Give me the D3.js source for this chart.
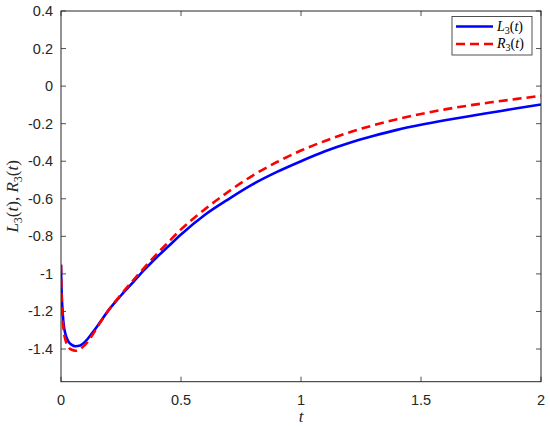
<!DOCTYPE html>
<html><head><meta charset="utf-8">
<script src="https://cdn.jsdelivr.net/npm/d3@7"></script>
<style>body{margin:0;background:#fff}svg{display:block}</style>
</head><body>
<svg id="c" width="550" height="428"></svg>
<script>
const tValues = [0,0.002,0.005,0.01,0.02,0.03,0.045,0.06,0.08,0.1,0.13,0.16,0.2,0.25,0.3,0.35,0.4,0.45,0.5,0.6,0.7,0.8,0.9,1.0,1.1,1.2,1.3,1.4,1.5,1.6,1.7,1.8,1.9,2.0];
const L3 = [-0.951,-1.073,-1.165,-1.256,-1.327,-1.358,-1.378,-1.385,-1.381,-1.362,-1.315,-1.262,-1.19,-1.115,-1.045,-0.975,-0.91,-0.85,-0.79,-0.685,-0.6,-0.522,-0.457,-0.400,-0.347,-0.303,-0.266,-0.233,-0.206,-0.182,-0.16,-0.139,-0.118,-0.098];
const R3 = [-0.951,-1.094,-1.195,-1.287,-1.358,-1.388,-1.404,-1.409,-1.399,-1.378,-1.327,-1.266,-1.19,-1.11,-1.035,-0.963,-0.893,-0.827,-0.763,-0.655,-0.56,-0.475,-0.404,-0.343,-0.292,-0.247,-0.209,-0.176,-0.148,-0.124,-0.103,-0.085,-0.068,-0.052];
const xTicks = [0,0.5,1,1.5,2];
const yTicks = [0.4,0.2,0,-0.2,-0.4,-0.6,-0.8,-1,-1.2,-1.4];
const xTickLabels = ["0","0.5","1","1.5","2"];
const yTickLabels = ["0.4","0.2","0","-0.2","-0.4","-0.6","-0.8","-1","-1.2","-1.4"];

const svg = d3.select("#c");
const L = 61, R = 541, T = 11, B = 381.7;
const x = d3.scaleLinear().domain([0,2]).range([L,R]);
const y = d3.scaleLinear().domain([-1.574,0.4]).range([B,T]);
const font = "Helvetica, Arial, 'Liberation Sans', sans-serif";
const serif = "'Liberation Serif','DejaVu Serif',serif";

// ticks inside on all 4 sides
const tk = 5;
const g = svg.append("g").attr("stroke","#262626").attr("stroke-width",0.8);
xTicks.forEach(v=>{
  g.append("line").attr("x1",x(v)).attr("x2",x(v)).attr("y1",B).attr("y2",B-tk);
  g.append("line").attr("x1",x(v)).attr("x2",x(v)).attr("y1",T).attr("y2",T+tk);
});
yTicks.forEach(v=>{
  g.append("line").attr("x1",L).attr("x2",L+tk).attr("y1",y(v)).attr("y2",y(v));
  g.append("line").attr("x1",R).attr("x2",R-tk).attr("y1",y(v)).attr("y2",y(v));
});

// tick labels
xTicks.forEach((v,i)=>{
  svg.append("text").attr("x",x(v)).attr("y",B+23).attr("text-anchor","middle")
    .attr("font-family",font).attr("font-size",14.5).attr("fill","#262626").text(xTickLabels[i]);
});
yTicks.forEach((v,i)=>{
  svg.append("text").attr("x",L-8).attr("y",y(v)+5).attr("text-anchor","end")
    .attr("font-family",font).attr("font-size",14.5).attr("fill","#262626").text(yTickLabels[i]);
});

// lines
svg.append("clipPath").attr("id","cp").append("rect").attr("x",L).attr("y",T).attr("width",R-L).attr("height",B-T);
const line = d3.line().x((d,i)=>x(tValues[i])).y(d=>y(d)).curve(d3.curveMonotoneX);
svg.append("path").datum(L3).attr("d",line).attr("fill","none").attr("stroke","#0000ff").attr("stroke-width",2.6).attr("clip-path","url(#cp)");
svg.append("path").datum(R3).attr("d",line).attr("fill","none").attr("stroke","#ff0000").attr("stroke-width",2.6).attr("stroke-dasharray","9,5").attr("clip-path","url(#cp)");

// box
svg.append("rect").attr("x",L).attr("y",T).attr("width",R-L).attr("height",B-T)
  .attr("fill","none").attr("stroke","#262626").attr("stroke-width",1);

function addLabel(t, name, sub){
  t.append("tspan").attr("font-style","italic").text(name);
  t.append("tspan").attr("font-size",sub).attr("dy",sub*0.3).text("3");
  t.append("tspan").attr("dy",-sub*0.3).text("(");
  t.append("tspan").attr("font-style","italic").text("t");
  t.append("tspan").text(")");
}

// axis labels
svg.append("text").attr("x",(L+R)/2).attr("y",422).attr("text-anchor","middle")
  .attr("font-family",serif).attr("font-size",17).attr("font-style","italic").attr("fill","#262626").text("t");
const yl = svg.append("text").attr("transform",`translate(18,${(T+B)/2}) rotate(-90)`).attr("text-anchor","middle")
  .attr("font-family",serif).attr("font-size",17).attr("fill","#262626");
addLabel(yl,"L",12);
yl.append("tspan").text(", ");
addLabel(yl,"R",12);

// legend
const lg = svg.append("g");
lg.append("rect").attr("x",452).attr("y",16.5).attr("width",80).attr("height",38.5)
  .attr("fill","#fff").attr("stroke","#262626").attr("stroke-width",0.8);
const names = ["L","R"], colors = ["#0000ff","#ff0000"], dashes = [null,"9,5"], rows = [26.5,44];
names.forEach((n,i)=>{
  const ln = lg.append("line").attr("x1",456).attr("x2",493).attr("y1",rows[i]).attr("y2",rows[i])
    .attr("stroke",colors[i]).attr("stroke-width",2.6);
  if(dashes[i]) ln.attr("stroke-dasharray",dashes[i]);
  const tx = lg.append("text").attr("x",497).attr("y",rows[i]+4).attr("font-family",serif)
    .attr("font-size",14).attr("fill","#000");
  addLabel(tx,n,10);
});
</script>
</body></html>
